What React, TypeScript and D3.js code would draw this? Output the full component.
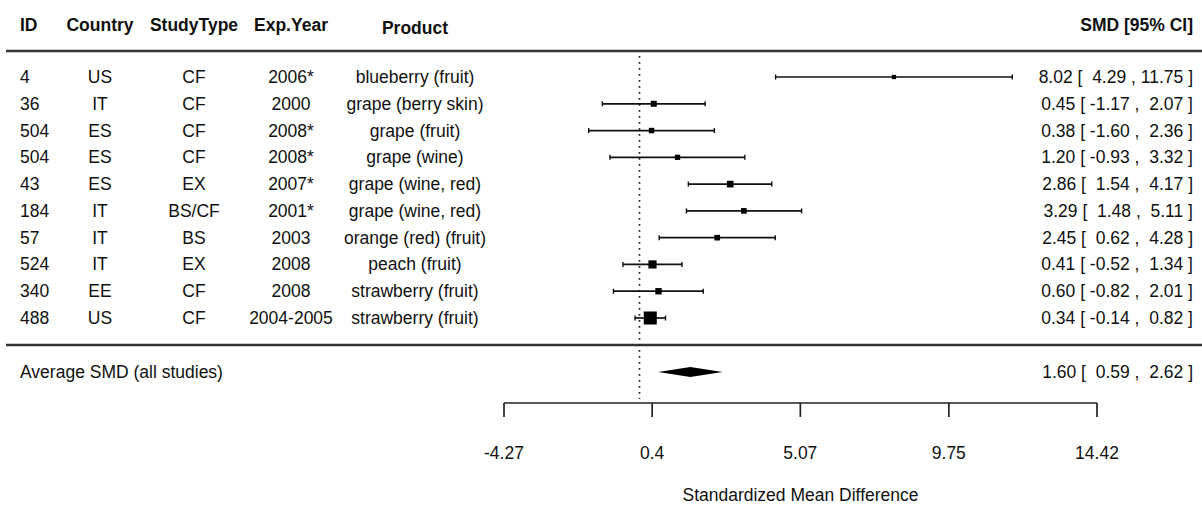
import React from "react";
import * as d3 from "d3";

const ids = ["4", "36", "504", "504", "43", "184", "57", "524", "340", "488"];
const countries = ["US", "IT", "ES", "ES", "ES", "IT", "IT", "IT", "EE", "US"];
const studyTypes = ["CF", "CF", "CF", "CF", "EX", "BS/CF", "BS", "EX", "CF", "CF"];
const expYears = ["2006*", "2000", "2008*", "2008*", "2007*", "2001*", "2003", "2008", "2008", "2004-2005"];
const products = [
  "blueberry (fruit)",
  "grape (berry skin)",
  "grape (fruit)",
  "grape (wine)",
  "grape (wine, red)",
  "grape (wine, red)",
  "orange (red) (fruit)",
  "peach (fruit)",
  "strawberry (fruit)",
  "strawberry (fruit)",
];
const smd = [8.02, 0.45, 0.38, 1.2, 2.86, 3.29, 2.45, 0.41, 0.6, 0.34];
const ciLow = [4.29, -1.17, -1.6, -0.93, 1.54, 1.48, 0.62, -0.52, -0.82, -0.14];
const ciHigh = [11.75, 2.07, 2.36, 3.32, 4.17, 5.11, 4.28, 1.34, 2.01, 0.82];
const avgLabel = "Average SMD (all studies)";
const avgEst = 1.6;
const avgLow = 0.59;
const avgHigh = 2.62;
const axisTicks = [-4.27, 0.4, 5.07, 9.75, 14.42];
const headers = ["ID", "Country", "StudyType", "Exp.Year", "Product"];
const ciHeader = "SMD [95% CI]";
const xLabel = "Standardized Mean Difference";

const W = 1202;
const H = 506;
const FONT = "'Liberation Sans', Arial, Helvetica, sans-serif";
const FS = 17.5;
const INK = "#111";

const x = d3.scaleLinear().domain([axisTicks[0], axisTicks[axisTicks.length - 1]]).range([504, 1097]);
const y = d3.scalePoint<number>().domain(d3.range(smd.length)).range([77, 318]);
const f2 = (v: number) => d3.format(".2f")(v).replace("\u2212", "-");
const pad5 = (v: number) => f2(v).padStart(5, " ");
const annot = (e: number, l: number, h: number) => `${f2(e)} [ ${pad5(l)} , ${pad5(h)} ]`;

// box size from precision (1/SE), as in metafor's forest plot
const invSe = smd.map((_, i) => 3.92 / (ciHigh[i] - ciLow[i]));
const boxSize = d3.scaleLinear().domain([d3.min(invSe)!, d3.max(invSe)!]).range([4.3, 13]);

const colX = { id: 20, country: 100, study: 194, year: 291, product: 415, right: 1193 };

export default function App() {
  const yHeader = 25;
  const yHeaderLine = 51;
  const ySep = 345;
  const yAvg = 372;
  const yAxis = 403;
  const x0 = x(0);
  const textProps = { fontFamily: FONT, fontSize: FS, fill: INK, dominantBaseline: "central" as const };
  return (
    <svg width={W} height={H} style={{ display: "block", position: "absolute", left: 0, top: 0, background: "#fff" }}>
      <rect x={0} y={0} width={W} height={H} fill="#fff" />
      {/* headers */}
      <g fontWeight="bold" {...textProps}>
        <text x={colX.id} y={yHeader}>{headers[0]}</text>
        <text x={colX.country} y={yHeader} textAnchor="middle">{headers[1]}</text>
        <text x={colX.study} y={yHeader} textAnchor="middle">{headers[2]}</text>
        <text x={colX.year} y={yHeader} textAnchor="middle">{headers[3]}</text>
        <text x={colX.product} y={yHeader + 3} textAnchor="middle">{headers[4]}</text>
        <text x={colX.right} y={yHeader} textAnchor="end">{ciHeader}</text>
      </g>
      <line x1={6} x2={W} y1={yHeaderLine} y2={yHeaderLine} stroke="#333" strokeWidth={2.4} />
      <line x1={6} x2={W} y1={ySep} y2={ySep} stroke="#333" strokeWidth={2.4} />
      {/* reference line */}
      <line x1={x0} x2={x0} y1={yHeaderLine + 5} y2={yAxis - 4} stroke="#222" strokeWidth={1.7} strokeDasharray="1.8,4.2" />
      {/* rows */}
      {smd.map((v, i) => {
        const yy = y(i)!;
        const s = boxSize(invSe[i]);
        return (
          <g key={i}>
            <text {...textProps} x={colX.id} y={yy}>{ids[i]}</text>
            <text {...textProps} x={colX.country} y={yy} textAnchor="middle">{countries[i]}</text>
            <text {...textProps} x={colX.study} y={yy} textAnchor="middle">{studyTypes[i]}</text>
            <text {...textProps} x={colX.year} y={yy} textAnchor="middle">{expYears[i]}</text>
            <text {...textProps} x={colX.product} y={yy} textAnchor="middle">{products[i]}</text>
            <text {...textProps} x={colX.right} y={yy} textAnchor="end" style={{ whiteSpace: "pre" }}>
              {annot(v, ciLow[i], ciHigh[i])}
            </text>
            <line x1={x(ciLow[i])} x2={x(ciHigh[i])} y1={yy} y2={yy} stroke="#111" strokeWidth={1.7} />
            <line x1={x(ciLow[i])} x2={x(ciLow[i])} y1={yy - 2.5} y2={yy + 2.5} stroke="#111" strokeWidth={1.4} />
            <line x1={x(ciHigh[i])} x2={x(ciHigh[i])} y1={yy - 2.5} y2={yy + 2.5} stroke="#111" strokeWidth={1.4} />
            <rect x={x(v) - s / 2} y={yy - s / 2} width={s} height={s} fill="#000" />
          </g>
        );
      })}
      {/* summary */}
      <text {...textProps} x={colX.id} y={yAvg}>{avgLabel}</text>
      <text {...textProps} x={colX.right} y={yAvg} textAnchor="end" style={{ whiteSpace: "pre" }}>
        {annot(avgEst, avgLow, avgHigh)}
      </text>
      <polygon
        points={[
          [x(avgLow), yAvg],
          [x(avgEst), yAvg - 5],
          [x(avgHigh), yAvg],
          [x(avgEst), yAvg + 5],
        ]
          .map((p) => p.join(","))
          .join(" ")}
        fill="#000"
      />
      {/* axis */}
      <line x1={x(axisTicks[0])} x2={x(axisTicks[axisTicks.length - 1])} y1={yAxis} y2={yAxis} stroke="#222" strokeWidth={1.7} />
      {axisTicks.map((t) => (
        <g key={t}>
          <line x1={x(t)} x2={x(t)} y1={yAxis} y2={yAxis + 14} stroke="#222" strokeWidth={1.7} />
          <text {...textProps} x={x(t)} y={yAxis + 50} textAnchor="middle">{String(t)}</text>
        </g>
      ))}
      <text {...textProps} x={(x(axisTicks[0]) + x(axisTicks[axisTicks.length - 1])) / 2} y={yAxis + 92} textAnchor="middle">
        {xLabel}
      </text>
    </svg>
  );
}
